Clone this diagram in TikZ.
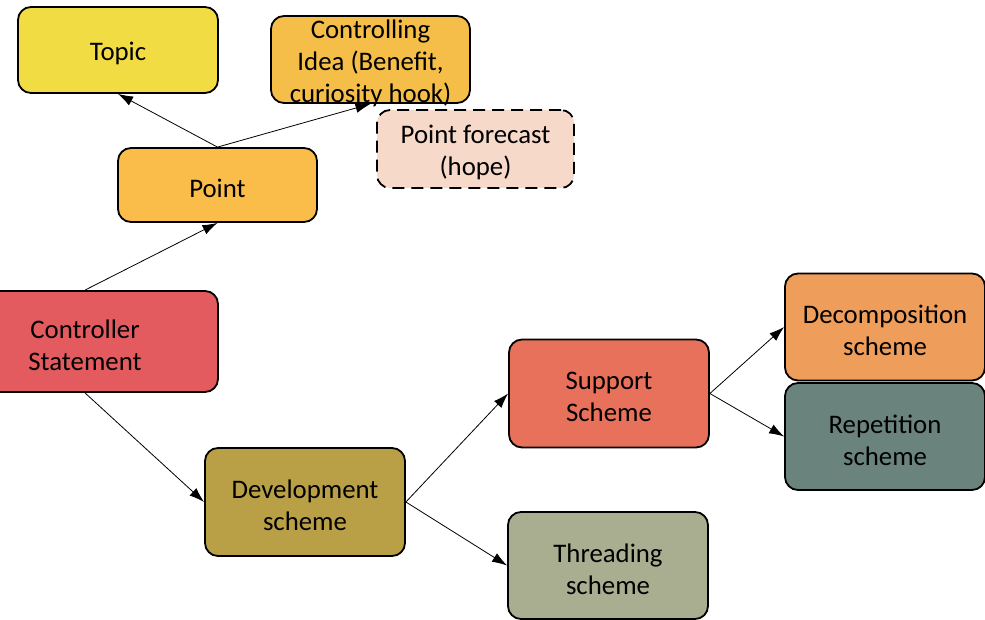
\documentclass[tikz,border=0pt]{standalone}
\usepackage{fontspec}
\setmainfont{Carlito}
\usetikzlibrary{arrows.meta}
\definecolor{cTopic}{HTML}{F2DC44}
\definecolor{cIdea}{HTML}{F5BE48}
\definecolor{cPoint}{HTML}{FBBD4A}
\definecolor{cFore}{HTML}{F6D9C9}
\definecolor{cCtrl}{HTML}{E35B5F}
\definecolor{cDev}{HTML}{B9A046}
\definecolor{cSup}{HTML}{E8715B}
\definecolor{cThr}{HTML}{A9AE90}
\definecolor{cDec}{HTML}{EE9D5B}
\definecolor{cRep}{HTML}{6B837D}
\begin{document}
\begin{tikzpicture}[x=1pt,y=-1pt,
  box/.style={draw=black, line width=1.8pt, rounded corners=13pt, inner sep=0pt},
  lbl/.style={align=center, inner sep=0pt, yshift=-3.5pt,
    font=\fontsize{26.8}{32}\selectfont, text=black},
  conn/.style={draw=black, line width=0.8pt, -{Latex[length=15pt,width=10pt]}}]
\useasboundingbox (0,0) rectangle (985,620);
\clip (0,0) rectangle (985,620);
\node[box, fill=cTopic, minimum width=200pt, minimum height=86pt,
  label={[lbl]center:Topic}] (topic) at (118,50) {};
\node[box, fill=cIdea, minimum width=199pt, minimum height=87pt,
  label={[lbl]center:Controlling\\Idea (Benefit,\\curiosity hook)}] (idea) at (370.5,59.5) {};
\node[box, fill=cFore, dashed, dash pattern=on 12pt off 7pt, minimum width=197pt, minimum height=78pt,
  label={[lbl]center:Point forecast\\(hope)}] (fore) at (475.5,149) {};
\node[box, fill=cPoint, minimum width=199pt, minimum height=74pt,
  label={[lbl]center:Point}] (point) at (217.5,185) {};
\node[box, fill=cCtrl, minimum width=266pt, minimum height=101pt,
  label={[lbl]center:Controller\\Statement}] (ctrl) at (85,341.5) {};
\node[box, fill=cDev, minimum width=200pt, minimum height=108pt,
  label={[lbl]center:Development\\scheme}] (dev) at (305,502) {};
\node[box, fill=cSup, minimum width=200pt, minimum height=108pt,
  label={[lbl]center:Support\\Scheme}] (sup) at (609,393.5) {};
\node[box, fill=cThr, minimum width=200pt, minimum height=107pt,
  label={[lbl]center:Threading\\scheme}] (thr) at (608,565.5) {};
\node[box, fill=cDec, minimum width=200pt, minimum height=107pt,
  label={[lbl]center:Decomposition\\scheme}] (dec) at (885,327) {};
\node[box, fill=cRep, minimum width=200pt, minimum height=107pt,
  label={[lbl]center:Repetition\\scheme}] (rep) at (885,436.5) {};
\draw[conn] (point.north) -- (topic.south);
\draw[conn] (point.north) -- (idea.south);
\draw[conn] (ctrl.north) -- (point.south);
\draw[conn] (ctrl.south) -- (dev.west);
\draw[conn] (dev.east) -- (sup.west);
\draw[conn] (dev.east) -- (thr.west);
\draw[conn] (sup.east) -- (dec.west);
\draw[conn] (sup.east) -- (rep.west);
\end{tikzpicture}
\end{document}
